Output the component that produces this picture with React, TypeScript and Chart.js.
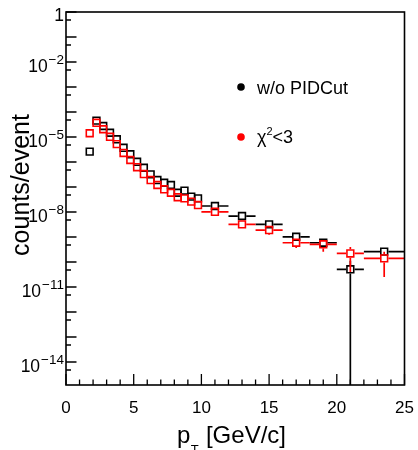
import React, { useEffect, useRef } from "react";
import { Chart, registerables } from "chart.js";

Chart.register(...registerables);

// pT bin centres [GeV/c]
const ptBins = [
  1.75, 2.25, 2.75, 3.25, 3.75, 4.25, 4.75, 5.25, 5.75, 6.25, 6.75, 7.25, 7.75,
  8.25, 8.75, 9.25, 9.75, 11, 13, 15, 17, 19, 21, 23.5,
];
// half bin widths (horizontal error bars)
const ptHalfWidth = [
  0.25, 0.25, 0.25, 0.25, 0.25, 0.25, 0.25, 0.25, 0.25, 0.25, 0.25, 0.25, 0.25,
  0.25, 0.25, 0.25, 0.25, 1, 1, 1, 1, 1, 1, 1.5,
];
// w/o PIDCut
const countsNoCut = [
  2.6e-6, 4.5e-5, 2.75e-5, 1.48e-5, 8.1e-6, 3.7e-6, 2.04e-6, 1.02e-6, 5.9e-7,
  3.2e-7, 1.9e-7, 1.48e-7, 1.2e-7, 5.9e-8, 7.1e-8, 4.1e-8, 3.5e-8, 1.74e-8,
  6.9e-9, 3.2e-9, 1.02e-9, 5.9e-10, 5.1e-11, 2.6e-10,
];
const countsNoCutErr = [
  0, 0, 0, 0, 0, 0, 0, 0, 0, 0, 0, 0, 0, 0, 0, 0, 0, 0, 0, 3e-10, 1.2e-10,
  8e-11, 6e-11, 8e-11,
];
// chi2 < 3
const countsChi2 = [
  1.41e-5, 3.7e-5, 2.04e-5, 1.02e-5, 5.2e-6, 2.3e-6, 1.2e-6, 6.2e-7, 3.3e-7,
  1.9e-7, 1.2e-7, 8.1e-8, 5.9e-8, 3.9e-8, 3.5e-8, 2.6e-8, 1.9e-8, 1.02e-8,
  3.2e-9, 1.9e-9, 5.9e-10, 5.1e-10, 2.2e-10, 1.4e-10,
];
const countsChi2Err = [
  0, 0, 0, 0, 0, 0, 0, 0, 0, 0, 0, 0, 0, 0, 0, 0, 0, 0, 0, 7e-10, 2.3e-10,
  2.5e-10, 1.8e-10, 1.15e-10,
];

const seriesNames = ["w/o PIDCut", "χ2<3"];
const seriesColors = ["#000000", "#ff0000"];
const xTickLabels = ["0", "5", "10", "15", "20", "25"];
const yLabelExponents = [0, -2, -5, -8, -11, -14];

const FONT = "'Liberation Sans', Arial, sans-serif";
const MARKER_R = 4.8;

const errorBarPlugin = {
  id: "errorBars",
  beforeDatasetDraw(chart: any, args: any) {
    const ds: any = chart.data.datasets[args.index];
    const xs = chart.scales.x;
    const ys = chart.scales.y;
    const area = chart.chartArea;
    const ctx = chart.ctx;
    const half = MARKER_R * Math.SQRT1_2 + 0.8;
    ctx.save();
    ctx.beginPath();
    ctx.rect(area.left, area.top, area.right - area.left, area.bottom - area.top);
    ctx.clip();
    ctx.strokeStyle = ds.borderColor;
    ctx.lineWidth = 1.7;
    ds.data.forEach((p: any, i: number) => {
      const px = xs.getPixelForValue(p.x);
      const py = ys.getPixelForValue(p.y);
      const xl = xs.getPixelForValue(p.x - ds.xErr[i]);
      const xr = xs.getPixelForValue(p.x + ds.xErr[i]);
      ctx.beginPath();
      if (px - half > xl) {
        ctx.moveTo(xl, py);
        ctx.lineTo(px - half, py);
      }
      if (xr > px + half) {
        ctx.moveTo(px + half, py);
        ctx.lineTo(xr, py);
      }
      const e = ds.yErr[i];
      if (e > 0) {
        const top = ys.getPixelForValue(p.y + e);
        const low = p.y - e;
        const bot = low > 0 ? ys.getPixelForValue(low) : area.bottom + 5;
        if (top < py - half) {
          ctx.moveTo(px, top);
          ctx.lineTo(px, py - half);
        }
        if (bot > py + half) {
          ctx.moveTo(px, py + half);
          ctx.lineTo(px, bot);
        }
      }
      ctx.stroke();
    });
    ctx.restore();
  },
};

const axesPlugin = {
  id: "rootAxes",
  afterDraw(chart: any) {
    const ctx = chart.ctx;
    const a = chart.chartArea;
    const xs = chart.scales.x;
    const ys = chart.scales.y;
    ctx.save();
    ctx.strokeStyle = "#000";
    ctx.lineWidth = 1.6;
    ctx.strokeRect(a.left, a.top, a.right - a.left, a.bottom - a.top);

    // x ticks
    ctx.lineWidth = 1.3;
    ctx.beginPath();
    for (let v = 0; v <= 25; v++) {
      const px = xs.getPixelForValue(v);
      const len = v % 5 === 0 ? 11 : 5.5;
      ctx.moveTo(px, a.bottom);
      ctx.lineTo(px, a.bottom - len);
    }
    // y ticks
    for (let k = 0; k >= -14; k--) {
      const py = ys.getPixelForValue(Math.pow(10, k));
      ctx.moveTo(a.left, py);
      ctx.lineTo(a.left + 10.5, py);
      const pm = ys.getPixelForValue(Math.pow(10, k - 0.32));
      if (pm < a.bottom) {
        ctx.moveTo(a.left, pm);
        ctx.lineTo(a.left + 5, pm);
      }
    }
    ctx.stroke();

    // x labels
    ctx.fillStyle = "#000";
    ctx.font = `17px ${FONT}`;
    ctx.textAlign = "center";
    ctx.textBaseline = "alphabetic";
    xTickLabels.forEach((t) => {
      ctx.fillText(t, xs.getPixelForValue(Number(t)), 413);
    });

    // y labels
    ctx.textAlign = "left";
    const rightEdge = a.left - 2;
    yLabelExponents.forEach((k) => {
      const py = ys.getPixelForValue(Math.pow(10, k));
      if (k === 0) {
        ctx.font = `17.5px ${FONT}`;
        const w = ctx.measureText("1").width;
        ctx.fillText("1", rightEdge - w, py + 8.5);
        return;
      }
      const sup = "\u2212" + String(-k);
      ctx.font = `13.5px ${FONT}`;
      const ws = ctx.measureText(sup).width;
      ctx.font = `17.5px ${FONT}`;
      const wb = ctx.measureText("10").width;
      ctx.fillText("10", rightEdge - ws - wb - 1, py + 10);
      ctx.font = `13.5px ${FONT}`;
      ctx.fillText(sup, rightEdge - ws, py + 1.5);
    });

    // x title: p_T [GeV/c]
    const x0 = 177;
    ctx.font = `24px ${FONT}`;
    const pW = ctx.measureText("p").width;
    ctx.fillText("p", x0, 443);
    ctx.font = `13px ${FONT}`;
    const tW = ctx.measureText("T").width;
    ctx.fillText("T", x0 + pW + 0.5, 454);
    ctx.font = `24px ${FONT}`;
    ctx.fillText(" [GeV/c]", x0 + pW + tW + 1, 443);

    // y title
    ctx.save();
    ctx.translate(29, 185);
    ctx.rotate(-Math.PI / 2);
    ctx.textAlign = "center";
    ctx.font = `25px ${FONT}`;
    ctx.fillText("counts/event", 0, 0);
    ctx.restore();

    // legend
    const legendY = [87, 137];
    seriesNames.forEach((name, i) => {
      const y = legendY[i];
      ctx.fillStyle = seriesColors[i];
      ctx.beginPath();
      ctx.arc(241, y, 3.8, 0, Math.PI * 2);
      ctx.fill();
      ctx.fillStyle = "#000";
      ctx.textAlign = "left";
      if (i === 0) {
        ctx.font = `18px ${FONT}`;
        ctx.fillText(name, 257, y + 6.5);
      } else {
        ctx.font = `18px ${FONT}`;
        ctx.fillText("\u03c7", 257, y + 5.5);
        const cw = ctx.measureText("\u03c7").width;
        ctx.font = `11px ${FONT}`;
        ctx.fillText("2", 257 + cw, y - 2.5);
        const sw = ctx.measureText("2").width;
        ctx.font = `18px ${FONT}`;
        ctx.fillText("<3", 257 + cw + sw, y + 5.5);
      }
    });
    ctx.restore();
  },
};

export default function App() {
  const ref = useRef<HTMLCanvasElement | null>(null);
  useEffect(() => {
    document.body.style.margin = "0";
    const canvas = ref.current;
    if (!canvas) return;
    const makeData = (vals: number[]) =>
      ptBins.map((x, i) => ({ x, y: vals[i] }));
    const chart = new Chart(canvas, {
      type: "scatter",
      data: {
        datasets: [
          {
            label: seriesNames[0],
            data: makeData(countsNoCut),
            borderColor: seriesColors[0],
            backgroundColor: "rgba(0,0,0,0)",
            pointStyle: "rect",
            pointRadius: MARKER_R,
            pointBorderWidth: 1.6,
            showLine: false,
            order: 2,
            xErr: ptHalfWidth,
            yErr: countsNoCutErr,
          } as any,
          {
            label: seriesNames[1],
            data: makeData(countsChi2),
            borderColor: seriesColors[1],
            backgroundColor: "rgba(0,0,0,0)",
            pointStyle: "rect",
            pointRadius: MARKER_R,
            pointBorderWidth: 1.6,
            showLine: false,
            order: 1,
            xErr: ptHalfWidth,
            yErr: countsChi2Err,
          } as any,
        ],
      },
      options: {
        responsive: false,
        animation: false,
        events: [],
        layout: { padding: { left: 66, right: 13.5, top: 12, bottom: 65 } },
        scales: {
          x: { type: "linear", min: 0, max: 25, display: false },
          y: { type: "logarithmic", min: Math.pow(10, -14.92), max: 1, display: false },
        },
        plugins: { legend: { display: false }, tooltip: { enabled: false } },
      },
      plugins: [errorBarPlugin, axesPlugin],
    });
    return () => chart.destroy();
  }, []);
  return (
    <div style={{ width: 418, height: 450, background: "#fff" }}>
      <canvas ref={ref} width={418} height={450} style={{ display: "block" }} />
    </div>
  );
}
